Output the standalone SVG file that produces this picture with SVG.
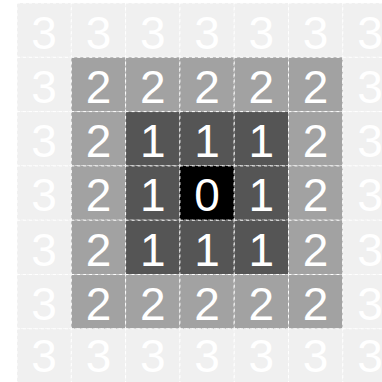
<svg xmlns="http://www.w3.org/2000/svg" width="382" height="382" viewBox="0 0 382 382">
<style>
.c{stroke:#ffffff;stroke-width:1;stroke-dasharray:3,3}
.d3{fill:#f0f0f0}.d2{fill:#a2a2a2}.d1{fill:#555555}.d0{fill:#000000}
text{font-family:"Liberation Sans",Arial,sans-serif;font-size:46px;fill:#ffffff;text-anchor:middle}
</style>
<rect width="382" height="382" fill="#ffffff"/>
<g id="cells">
<g id="r0"><rect class="c d3" x="17" y="3" width="54.3" height="54.3"/><text x="44.15" y="48.5">3</text><rect class="c d3" x="71.3" y="3" width="54.3" height="54.3"/><text x="98.45" y="48.5">3</text><rect class="c d3" x="125.6" y="3" width="54.3" height="54.3"/><text x="152.75" y="48.5">3</text><rect class="c d3" x="179.9" y="3" width="54.3" height="54.3"/><text x="207.05" y="48.5">3</text><rect class="c d3" x="234.2" y="3" width="54.3" height="54.3"/><text x="261.35" y="48.5">3</text><rect class="c d3" x="288.5" y="3" width="54.3" height="54.3"/><text x="315.65" y="48.5">3</text><rect class="c d3" x="342.8" y="3" width="54.3" height="54.3"/><text x="369.95" y="48.5">3</text></g>
<g id="r1"><rect class="c d3" x="17" y="57.3" width="54.3" height="54.3"/><text x="44.15" y="102.8">3</text><rect class="c d2" x="71.3" y="57.3" width="54.3" height="54.3"/><text x="98.45" y="102.8">2</text><rect class="c d2" x="125.6" y="57.3" width="54.3" height="54.3"/><text x="152.75" y="102.8">2</text><rect class="c d2" x="179.9" y="57.3" width="54.3" height="54.3"/><text x="207.05" y="102.8">2</text><rect class="c d2" x="234.2" y="57.3" width="54.3" height="54.3"/><text x="261.35" y="102.8">2</text><rect class="c d2" x="288.5" y="57.3" width="54.3" height="54.3"/><text x="315.65" y="102.8">2</text><rect class="c d3" x="342.8" y="57.3" width="54.3" height="54.3"/><text x="369.95" y="102.8">3</text></g>
<g id="r2"><rect class="c d3" x="17" y="111.6" width="54.3" height="54.3"/><text x="44.15" y="157.1">3</text><rect class="c d2" x="71.3" y="111.6" width="54.3" height="54.3"/><text x="98.45" y="157.1">2</text><rect class="c d1" x="125.6" y="111.6" width="54.3" height="54.3"/><text x="152.75" y="157.1">1</text><rect class="c d1" x="179.9" y="111.6" width="54.3" height="54.3"/><text x="207.05" y="157.1">1</text><rect class="c d1" x="234.2" y="111.6" width="54.3" height="54.3"/><text x="261.35" y="157.1">1</text><rect class="c d2" x="288.5" y="111.6" width="54.3" height="54.3"/><text x="315.65" y="157.1">2</text><rect class="c d3" x="342.8" y="111.6" width="54.3" height="54.3"/><text x="369.95" y="157.1">3</text></g>
<g id="r3"><rect class="c d3" x="17" y="165.9" width="54.3" height="54.3"/><text x="44.15" y="211.4">3</text><rect class="c d2" x="71.3" y="165.9" width="54.3" height="54.3"/><text x="98.45" y="211.4">2</text><rect class="c d1" x="125.6" y="165.9" width="54.3" height="54.3"/><text x="152.75" y="211.4">1</text><rect class="c d0" x="179.9" y="165.9" width="54.3" height="54.3"/><text x="207.05" y="211.4">0</text><rect class="c d1" x="234.2" y="165.9" width="54.3" height="54.3"/><text x="261.35" y="211.4">1</text><rect class="c d2" x="288.5" y="165.9" width="54.3" height="54.3"/><text x="315.65" y="211.4">2</text><rect class="c d3" x="342.8" y="165.9" width="54.3" height="54.3"/><text x="369.95" y="211.4">3</text></g>
<g id="r4"><rect class="c d3" x="17" y="220.2" width="54.3" height="54.3"/><text x="44.15" y="265.7">3</text><rect class="c d2" x="71.3" y="220.2" width="54.3" height="54.3"/><text x="98.45" y="265.7">2</text><rect class="c d1" x="125.6" y="220.2" width="54.3" height="54.3"/><text x="152.75" y="265.7">1</text><rect class="c d1" x="179.9" y="220.2" width="54.3" height="54.3"/><text x="207.05" y="265.7">1</text><rect class="c d1" x="234.2" y="220.2" width="54.3" height="54.3"/><text x="261.35" y="265.7">1</text><rect class="c d2" x="288.5" y="220.2" width="54.3" height="54.3"/><text x="315.65" y="265.7">2</text><rect class="c d3" x="342.8" y="220.2" width="54.3" height="54.3"/><text x="369.95" y="265.7">3</text></g>
<g id="r5"><rect class="c d3" x="17" y="274.5" width="54.3" height="54.3"/><text x="44.15" y="320">3</text><rect class="c d2" x="71.3" y="274.5" width="54.3" height="54.3"/><text x="98.45" y="320">2</text><rect class="c d2" x="125.6" y="274.5" width="54.3" height="54.3"/><text x="152.75" y="320">2</text><rect class="c d2" x="179.9" y="274.5" width="54.3" height="54.3"/><text x="207.05" y="320">2</text><rect class="c d2" x="234.2" y="274.5" width="54.3" height="54.3"/><text x="261.35" y="320">2</text><rect class="c d2" x="288.5" y="274.5" width="54.3" height="54.3"/><text x="315.65" y="320">2</text><rect class="c d3" x="342.8" y="274.5" width="54.3" height="54.3"/><text x="369.95" y="320">3</text></g>
<g id="r6"><rect class="c d3" x="17" y="328.8" width="54.3" height="54.3"/><text x="44.15" y="371.5">3</text><rect class="c d3" x="71.3" y="328.8" width="54.3" height="54.3"/><text x="98.45" y="371.5">3</text><rect class="c d3" x="125.6" y="328.8" width="54.3" height="54.3"/><text x="152.75" y="371.5">3</text><rect class="c d3" x="179.9" y="328.8" width="54.3" height="54.3"/><text x="207.05" y="371.5">3</text><rect class="c d3" x="234.2" y="328.8" width="54.3" height="54.3"/><text x="261.35" y="371.5">3</text><rect class="c d3" x="288.5" y="328.8" width="54.3" height="54.3"/><text x="315.65" y="371.5">3</text><rect class="c d3" x="342.8" y="328.8" width="54.3" height="54.3"/><text x="369.95" y="371.5">3</text></g>
</g>
</svg>
